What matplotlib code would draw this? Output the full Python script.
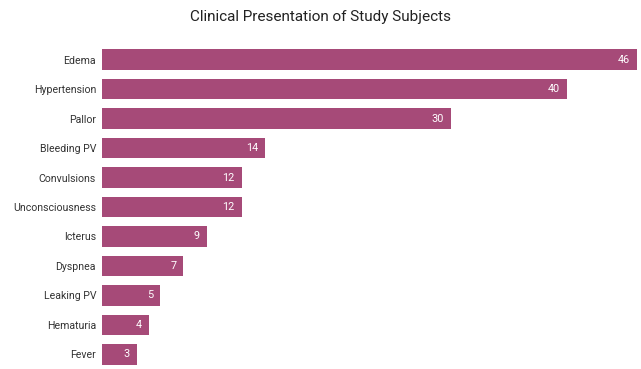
import matplotlib
matplotlib.use("Agg")
import matplotlib.pyplot as plt

categories = ["Edema", "Hypertension", "Pallor", "Bleeding PV", "Convulsions",
              "Unconsciousness", "Icterus", "Dyspnea", "Leaking PV", "Hematuria", "Fever"]
values = [46, 40, 30, 14, 12, 12, 9, 7, 5, 4, 3]
title = "Clinical Presentation of Study Subjects"

plt.rcParams['font.family'] = ['Roboto', 'DejaVu Sans']

W, H = 641, 369
fig = plt.figure(figsize=(W/100, H/100), dpi=100)
left, right = 102, 637
top, bottom = 45, 369
ax = fig.add_axes([left/W, (H-bottom)/H, (right-left)/W, (bottom-top)/H])

color = "#A64A78"
y = list(range(len(categories)))
ax.barh(y, values, height=0.7, color=color, edgecolor="none")
ax.set_xlim(0, 46)
ax.set_ylim(10.5, -0.5)
ax.set_yticks(y)
ax.set_yticklabels(categories, fontsize=7.6, color="#333333")
ax.tick_params(axis='y', length=0, pad=4.3)
ax.set_xticks([])
for s in ax.spines.values():
    s.set_visible(False)

for yi, v in zip(y, values):
    ax.text(v - 0.6, yi, str(v), ha='right', va='center', color='white', fontsize=7.8)

fig.text(320/W, 1 - 17/H, title, ha='center', va='center', fontsize=11, color="#222222")

fig.savefig("out.png", dpi=100)
